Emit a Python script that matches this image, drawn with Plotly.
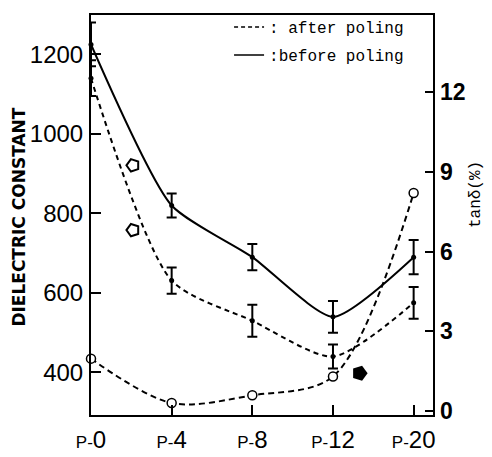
import plotly.graph_objects as go

# ---- data ----
samples = ["P-0", "P-4", "P-8", "P-12", "P-20"]
sample_pos = [0, 1, 2, 3, 4]

eps_before = [1225, 820, 690, 540, 690]
eps_before_err = [55, 30, 33, 40, 43]

eps_after = [1140, 631, 530, 440, 575]
eps_after_err = [45, 33, 40, 30, 40]

tan_after = [1.97, 0.30, 0.59, 1.30, 8.2]

extra_pos = [0.52]
extra_before = [921]
extra_after = [758]

arrow_pos = [3.33]
arrow_val = [398]

left_ticks = [400, 600, 800, 1000, 1200]
right_ticks = [0, 3, 6, 9, 12]

tick_text = ["<span style='font-size:17px'>P-</span>" + s[2:] for s in samples]

fig = go.Figure()

# before poling (solid)
fig.add_trace(go.Scatter(
    x=sample_pos, y=eps_before, mode="lines+markers",
    line=dict(color="black", width=2, shape="spline", smoothing=0.6),
    marker=dict(color="black", size=5),
    error_y=dict(type="data", array=eps_before_err, color="black", thickness=2, width=5),
    showlegend=False, cliponaxis=False))

# after poling (dashed)
fig.add_trace(go.Scatter(
    x=sample_pos, y=eps_after, mode="lines+markers",
    line=dict(color="black", width=2, dash="5px,4px", shape="spline", smoothing=0.7),
    marker=dict(color="black", size=5),
    error_y=dict(type="data", array=eps_after_err, color="black", thickness=2, width=5),
    showlegend=False, cliponaxis=False))

# extra points
fig.add_trace(go.Scatter(
    x=extra_pos + extra_pos, y=extra_before + extra_after, mode="markers",
    marker=dict(symbol="pentagon-open", angle=-90, size=13, color="black", line=dict(width=2)),
    showlegend=False, cliponaxis=False))

# arrow marker
fig.add_trace(go.Scatter(
    x=arrow_pos, y=arrow_val, mode="markers",
    marker=dict(symbol="pentagon", angle=90, size=16, color="black"),
    showlegend=False, cliponaxis=False))

# tan delta after poling
fig.add_trace(go.Scatter(
    x=sample_pos, y=tan_after, mode="lines+markers", yaxis="y2",
    line=dict(color="black", width=2, dash="6px,4px", shape="spline", smoothing=0.9),
    marker=dict(symbol="circle", size=9, color="white", line=dict(color="black", width=1.5)),
    showlegend=False, cliponaxis=False))

# legend entries
fig.add_trace(go.Scatter(x=[None], y=[None], mode="lines", name=": after poling",
                         line=dict(color="black", width=1.5, dash="4px,3px"),
                         legendgroup="a"))
fig.add_trace(go.Scatter(x=[None], y=[None], mode="lines", name=":before poling",
                         line=dict(color="black", width=1.5),
                         legendgroup="b"))

fig.update_layout(
    width=492, height=457,
    margin=dict(l=91, r=59, t=10, b=42),
    paper_bgcolor="white", plot_bgcolor="white",
    font=dict(family="Liberation Sans", color="black"),
    showlegend=True,
    legend=dict(x=0.93, y=1.012, xanchor="right", yanchor="top",
                bgcolor="rgba(0,0,0,0)", borderwidth=0,
                font=dict(family="Liberation Mono", size=16, color="black"),
                tracegroupgap=4, itemwidth=30),
    xaxis=dict(range=[0, 4.24], tickvals=sample_pos, ticktext=tick_text,
               showline=True, linecolor="black", linewidth=2, mirror=True,
               ticks="inside", ticklen=10, tickwidth=2, tickcolor="black",
               showgrid=False, zeroline=False, ticklabelstandoff=2, automargin=False,
               tickfont=dict(size=24, family="Liberation Sans")),
    yaxis=dict(range=[293, 1299], tickvals=left_ticks,
               showline=True, linecolor="black", linewidth=2, mirror=True,
               ticks="inside", ticklen=10, tickwidth=2, tickcolor="black",
               showgrid=False, zeroline=False, ticklabelstandoff=1, automargin=False,
               tickfont=dict(size=24, family="Liberation Sans")),
    yaxis2=dict(range=[-0.15, 14.9], tickvals=right_ticks, overlaying="y", side="right",
                showline=False, ticks="inside", ticklen=8, tickwidth=2, tickcolor="black",
                showgrid=False, zeroline=False, ticklabelstandoff=6, automargin=False,
                tickfont=dict(size=23, family="Liberation Sans", weight="bold")),
    annotations=[
        dict(text="DIELECTRIC CONSTANT", x=-0.245, y=0.494, xref="paper", yref="paper",
             textangle=-90, showarrow=False,
             font=dict(family="DejaVu Sans", size=17, color="black", weight="bold")),
        dict(text="tanδ(%)", x=1.158, y=0.55, xref="paper", yref="paper",
             textangle=-90, showarrow=False,
             font=dict(family="Liberation Mono", size=16, color="black")),
    ],
)

fig.write_html("out.html")
